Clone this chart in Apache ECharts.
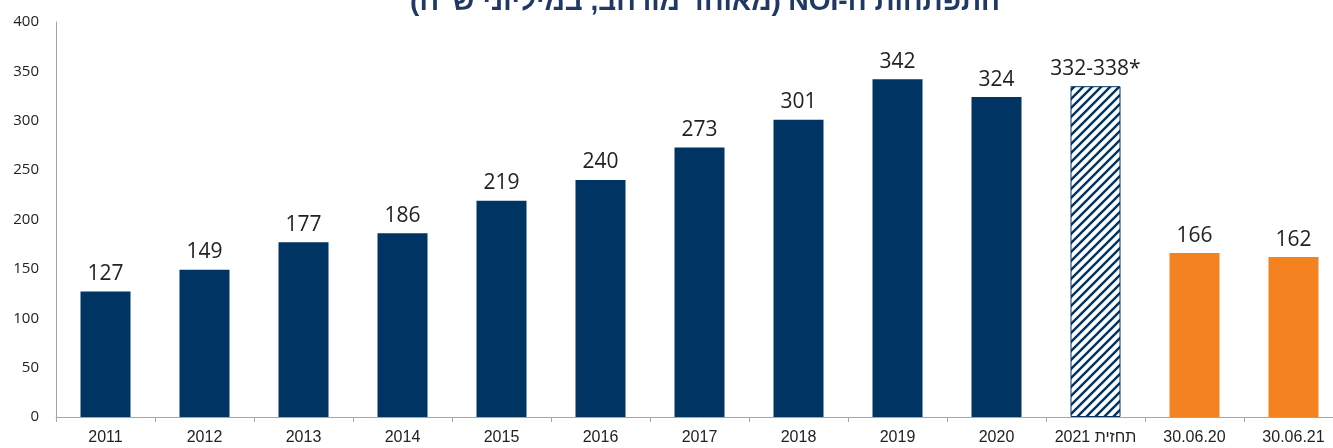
<!DOCTYPE html>
<html>
<head>
<meta charset="utf-8">
<script src="https://cdn.jsdelivr.net/npm/echarts@6/dist/echarts.min.js"></script>
<style>
    html, body {margin: 0; padding: 0; background: #fff; overflow: hidden;}
    /* a bit wider than the window: the last category runs past the right edge */
    #chart {width: 1343px; height: 448px;}
</style>
</head>
<body>
<div id="chart"></div>
<script>
const categories = ['2011', '2012', '2013', '2014', '2015', '2016', '2017', '2018', '2019', '2020', 'תחזית 2021', '30.06.20', '30.06.21'];
const values = [127, 149, 177, 186, 219, 240, 273, 301, 342, 324, 335, 166, 162];
const labels = ['127', '149', '177', '186', '219', '240', '273', '301', '342', '324', '332-338*', '166', '162'];
const kinds = ['y', 'y', 'y', 'y', 'y', 'y', 'y', 'y', 'y', 'y', 'f', 'h', 'h'];
const yTicks = [0, 50, 100, 150, 200, 250, 300, 350, 400];

const BLUE = '#003462';
const ORANGE = '#F58220';

// diagonal stripes for the forecast bar
function stripes() {
    const c = document.createElement('canvas');
    c.width = 9; c.height = 9;
    const g = c.getContext('2d');
    g.fillStyle = '#fff';
    g.fillRect(0, 0, 9, 9);
    g.strokeStyle = BLUE;
    g.lineWidth = 2.4;
    g.beginPath();
    g.moveTo(-2, 11); g.lineTo(11, -2);
    g.moveTo(-7, 7); g.lineTo(7, -7);
    g.moveTo(2, 16); g.lineTo(16, 2);
    g.stroke();
    return c;
}

const data = values.map((v, i) => {
    let itemStyle = {color: BLUE};
    if (kinds[i] === 'f') itemStyle = {color: {image: stripes(), repeat: 'repeat'}, borderColor: BLUE, borderWidth: 1};
    if (kinds[i] === 'h') itemStyle = {color: ORANGE};
    return {value: v, itemStyle: itemStyle, label: {formatter: labels[i]}};
});

const chart = echarts.init(document.getElementById('chart'));
chart.setOption({
    animation: false,
    title: {
        // RLE ... PDF so the Hebrew title reads right to left
        text: '\u202Bהתפתחות ה-NOI (מאוחד מורחב, במיליוני ש"ח)\u202C',
        left: 700, top: -17, textAlign: 'center',
        textStyle: {color: '#1F3864', fontSize: 28, fontWeight: 'bold', fontFamily: 'Liberation Sans'}
    },
    grid: {left: 56, right: 0, top: 22, bottom: 31, containLabel: false},
    xAxis: {
        type: 'category',
        data: categories,
        axisLine: {lineStyle: {color: '#a6a6a6'}},
        axisTick: {show: true, length: 5, lineStyle: {color: '#a6a6a6'}},
        axisLabel: {color: '#222', fontSize: 16, fontFamily: 'Liberation Sans', margin: 13, interval: 0}
    },
    yAxis: {
        type: 'value',
        min: yTicks[0], max: yTicks[yTicks.length - 1], interval: 50,
        axisLine: {show: true, lineStyle: {color: '#a6a6a6'}},
        axisTick: {show: false},
        splitLine: {show: false},
        axisLabel: {color: '#222', fontSize: 15, fontFamily: 'Open Sans', margin: 17}
    },
    series: [{
        type: 'bar',
        data: data,
        barWidth: 50,
        label: {show: true, position: 'top', distance: 7, color: '#222', fontSize: 21, fontFamily: 'Open Sans'}
    }]
});
</script>
</body>
</html>
